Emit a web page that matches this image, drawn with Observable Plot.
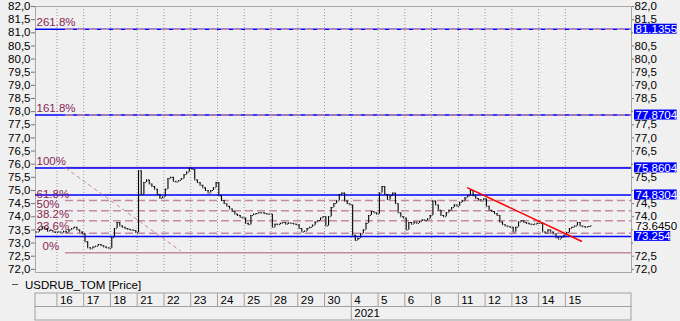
<!DOCTYPE html>
<html><head><meta charset="utf-8">
<script src="https://cdn.jsdelivr.net/npm/d3@7"></script>
<script src="https://cdn.jsdelivr.net/npm/@observablehq/plot@0.6"></script>
<style>
html,body{margin:0;padding:0;background:#f0f0f0;}
#wrap{position:relative;width:680px;height:321px;overflow:hidden;font-family:"Liberation Sans",Arial,sans-serif;background:#f0f0f0;}
#main{position:absolute;left:0;top:0;}
#dates{position:absolute;left:0;top:292px;}
#legend{position:absolute;left:25px;top:278px;font-size:11.5px;line-height:14px;color:#000;white-space:nowrap;}
#legdash{position:absolute;left:12px;top:284px;width:6px;height:1px;background:#555;}
</style></head>
<body><div id="wrap"><div id="main"></div><div id="legdash"></div><div id="legend">USDRUB_TOM [Price]</div><div id="dates"></div></div>
<script>
// ---- data ----
const dayLabels = ["", "16","17","18","21","22","23","24","25","28","29","30","4","5","6","8","11","12","13","14","15"];
const yearLabel = "2021";
const yearStartDay = 12;

// closes per trading day (Dec 15 partially visible)
const dec15 = [73.42, 73.5, 73.62, 73.55, 73.45, 73.48, 73.42, 73.4];
const dec16 = [73.42, 73.38, 73.45, 73.4, 73.5, 73.55, 73.6, 73.5, 73.42, 73.35];
const dec17 = [73.05, 72.82, 72.78, 72.85, 72.88, 72.95, 72.9, 72.85, 72.82, 72.8];
const dec18 = [73.2, 73.55, 73.78, 73.65, 73.6, 73.55, 73.52, 73.5, 73.48, 73.4];
const dec21 = [75.75, 74.85, 75.3, 75.4, 75.25, 75.15, 75.05, 74.85, 74.7, 74.75];
const dec22 = [75.05, 75.45, 75.5, 75.35, 75.32, 75.38, 75.45, 75.6, 75.7, 75.85];
const dec23 = [75.8, 75.4, 75.3, 75.2, 75.1, 75.0, 74.9, 75.0, 75.1, 75.3];
const dec24 = [74.8, 74.62, 74.5, 74.4, 74.3, 74.2, 74.1, 74.05, 73.98, 73.95];
const dec25 = [73.75, 73.7, 74.05, 74.1, 74.12, 74.15, 74.15, 74.12, 74.1, 74.1];
const dec28 = [73.6, 73.72, 73.7, 73.75, 73.78, 73.72, 73.76, 73.75, 73.72, 73.7];
const dec29 = [73.55, 73.42, 73.45, 73.55, 73.6, 73.68, 73.8, 73.85, 73.95, 74.0];
const dec30 = [73.65, 74.0, 74.35, 74.5, 74.6, 74.85, 74.9, 74.6, 74.5, 74.45];
const jan04 = [73.3, 73.1, 73.18, 73.35, 73.5, 73.75, 74.05, 74.2, 74.15, 74.1];
const jan05 = [74.9, 75.15, 74.85, 74.65, 74.8, 74.9, 74.5, 74.15, 74.0, 73.95];
const jan06 = [73.5, 73.78, 73.72, 73.8, 73.75, 73.82, 73.88, 73.85, 73.92, 74.05];
const jan08 = [74.6, 74.45, 74.25, 74.05, 74.0, 74.15, 74.25, 74.35, 74.45, 74.4];
const jan11 = [74.55, 74.6, 74.72, 74.8, 75.0, 74.8, 74.7, 74.65, 74.6, 74.68];
const jan12 = [74.4, 74.25, 74.2, 74.12, 74.05, 73.8, 73.7, 73.65, 73.62, 73.6];
const jan13 = [73.42, 73.6, 73.8, 73.85, 73.78, 73.75, 73.72, 73.7, 73.72, 73.75];
const jan14 = [73.75, 73.42, 73.38, 73.5, 73.42, 73.35, 73.2, 73.15, 73.22, 73.3];
const jan15 = [73.4, 73.55, 73.6, 73.65, 73.78, 73.65, 73.62, 73.6, 73.63, 73.645];
const closesByDay = [dec15, dec16, dec17, dec18, dec21, dec22, dec23, dec24, dec25, dec28, dec29, dec30,
  jan04, jan05, jan06, jan08, jan11, jan12, jan13, jan14, jan15];
const barsPerDay = 10;

// Fibonacci tool
const fibLabels = ["261.8%", "161.8%", "100%", "61.8%", "50%", "38.2%", "23.6%", "0%"];
const fibValues = [81.1355, 77.8704, 75.8604, 74.618, 74.234, 73.85, 73.376, 72.608];
const fibDashed = [true, true, false, true, true, true, true, false];
const fibStartX = 1.32;
const fibDiagX = [1.32, 5.62];
const fibDiagY = [75.8604, 72.7];

// horizontal blue lines and price labels
const blueValues = [81.1355, 77.8704, 75.8604, 74.8304, 73.254];
const blueTexts = ["81.1355", "77.8704", "75.8604", "74.8304", "73.254"];
const lastPrice = 73.645;
const lastPriceText = "73.6450";

// red trend line
const trendX = [16.33, 20.62];
const trendY = [75.11, 73.06];

const yTicks = d3.range(72, 82.001, 0.5);

// ---- build ----
const xDomain = [0.2, 22.47];
const yDomain = [71.88, 82];
const pink = "#c48aa5";
const maroon = "#8a1f55";
const blue = "#0000ff";
const fmtComma = d => d.toFixed(1).replace(".", ",");

const bars = [];
let prev = null;
closesByDay.forEach((arr, k) => {
  const off = barsPerDay - arr.length;
  arr.forEach((c, j) => {
    const o = prev == null ? c : prev;
    bars.push({t: k + (j + off + 0.5) / barsPerDay, open: o, close: c, lo: Math.min(o, c), hi: Math.max(o, c)});
    prev = c;
  });
});

const fib = fibLabels.map((l, i) => ({label: l, v: fibValues[i], dashed: fibDashed[i]}));
const boxW = s => s.replace(/\./g, "").length * 6.4 + 4.2;
const rightLabels = blueTexts.map((t, i) => ({text: t, v: blueValues[i]}));
const boxedValues = blueValues.concat([lastPrice]);
// right-axis labels hidden behind the price boxes
const isCovered = t => boxedValues.some(v => Math.abs(v - t) < 0.3);
const rightShown = yTicks.filter(t => !isCovered(t));
const rightHidden = yTicks.filter(t => isCovered(t));

const font = "Liberation Sans, Arial, sans-serif";

const boxMarks = rightLabels.map(l => Plot.rect([l], {
  x1: () => xDomain[1], x2: () => xDomain[1], y1: "v", y2: "v",
  insetLeft: 3, insetRight: -(3 + boxW(l.text)), insetTop: -5, insetBottom: -5,
  fill: blue
}));

const main = Plot.plot({
  width: 680, height: 280,
  marginTop: 6, marginBottom: 8, marginLeft: 35, marginRight: 49,
  style: {background: "#f0f0f0", fontFamily: font, fontSize: "11.5px", color: "#000"},
  x: {domain: xDomain, axis: null},
  y: {domain: yDomain, axis: null},
  marks: [
    Plot.ruleX(d3.range(1, dayLabels.length), {stroke: "#9a9a9a", strokeDasharray: "1,2"}),
    Plot.frame({stroke: "#a8a8a8"}),
    Plot.axisY(yTicks, {anchor: "left", tickSize: 4, tickPadding: 1, tickFormat: fmtComma, stroke: "#777"}),
    Plot.axisY(rightShown, {anchor: "right", tickSize: 2, tickPadding: 1, tickFormat: fmtComma, stroke: "#777"}),
    Plot.ruleY(rightHidden, {x1: () => xDomain[1], x2: () => xDomain[1], insetRight: -2, stroke: "#777"}),
    // fib solid levels under the blue lines
    Plot.ruleY(fib.filter(d => !d.dashed), {y: "v", x1: () => fibStartX, x2: () => xDomain[1], stroke: pink, strokeWidth: 1.5, dy: d => 0}),
    // blue horizontal lines
    Plot.ruleY(blueValues, {stroke: blue, strokeWidth: 1.5}),
    // fib dashed levels
    Plot.ruleY(fib.filter(d => d.dashed), {y: "v", x1: () => fibStartX, x2: () => xDomain[1], stroke: pink, strokeWidth: 1.5, strokeDasharray: "8,4"}),
    Plot.link([0], {x1: () => fibDiagX[0], y1: () => fibDiagY[0], x2: () => fibDiagX[1], y2: () => fibDiagY[1], stroke: pink, strokeWidth: 1, strokeDasharray: "4,3"}),
    Plot.text(fib.filter(d => d.label !== "0%"), {y: "v", text: "label", frameAnchor: "left", textAnchor: "start", lineAnchor: "bottom", dx: 1, dy: -3, fill: maroon, fontSize: 11.5}),
    Plot.text(fib.filter(d => d.label === "0%"), {y: "v", text: "label", frameAnchor: "left", textAnchor: "start", lineAnchor: "bottom", dx: 7, dy: -3, fill: maroon, fontSize: 11.5}),
    // price OHLC-style bars
    Plot.ruleX(bars, {x: "t", y1: "lo", y2: "hi", stroke: "#000", strokeWidth: 1.1}),
    Plot.ruleY(bars, {y: "open", x1: d => d.t - 0.035, x2: "t", stroke: "#000", strokeWidth: 1}),
    Plot.ruleY(bars, {y: "close", x1: "t", x2: d => d.t + 0.035, stroke: "#000", strokeWidth: 1}),
    // red trend line
    Plot.link([0], {x1: () => trendX[0], y1: () => trendY[0], x2: () => trendX[1], y2: () => trendY[1], stroke: "#ff0000", strokeWidth: 1.5}),
    // right price boxes
    ...boxMarks,
    Plot.text(rightLabels, {x: () => xDomain[1], y: "v", text: "text", dx: 4, textAnchor: "start", fill: "#fff", fontSize: 11.5}),
    Plot.rect([lastPrice], {x1: () => xDomain[1], x2: () => xDomain[1], y1: d => d, y2: d => d,
      insetLeft: 3, insetRight: -(3 + boxW(lastPriceText)), insetTop: -5, insetBottom: -5, fill: "#f8f8f8"}),
    Plot.text([lastPrice], {x: () => xDomain[1], y: d => d, text: () => lastPriceText, dx: 4, textAnchor: "start", fill: "#000", fontSize: 11.5})
  ]
});
document.getElementById("main").appendChild(main);

// date table, sharing the same x scale setup
const dates = Plot.plot({
  width: 680, height: 29,
  marginTop: 1, marginBottom: 1, marginLeft: 35, marginRight: 49,
  style: {background: "#f0f0f0", fontFamily: font, fontSize: "11.5px", color: "#000"},
  x: {domain: xDomain, axis: null},
  y: {domain: [0, 2], reverse: true, axis: null},
  marks: [
    Plot.rect([0, 1], {x1: () => xDomain[0], x2: () => xDomain[1], y1: d => d, y2: d => d + 1, fill: "none", stroke: "#a0a0a0"}),
    Plot.ruleX(d3.range(1, dayLabels.length), {y1: () => 0, y2: () => 1, stroke: "#a0a0a0"}),
    Plot.ruleX([yearStartDay], {y1: () => 1, y2: () => 2, stroke: "#a0a0a0"}),
    Plot.text(dayLabels.map((l, i) => ({l, i})).filter(d => d.l !== ""), {x: "i", y: () => 0.5, text: "l", dx: 3, textAnchor: "start", fill: "#000"}),
    Plot.text([yearLabel], {x: () => yearStartDay, y: () => 1.5, text: d => d, dx: 3, textAnchor: "start", fill: "#000"})
  ]
});
document.getElementById("dates").appendChild(dates);
</script>
</body></html>
